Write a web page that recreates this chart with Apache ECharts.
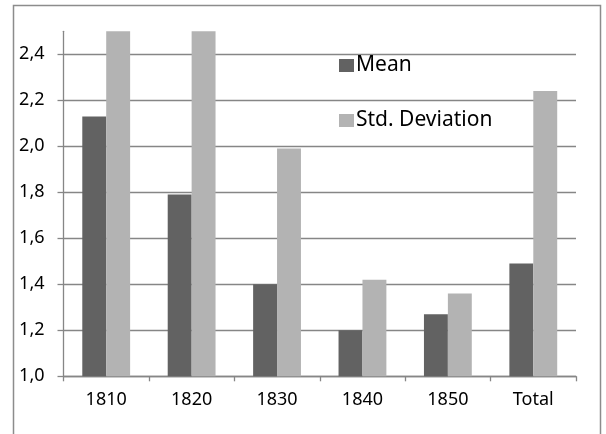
<!DOCTYPE html>
<html>
<head>
<meta charset="utf-8">
<script src="https://cdn.jsdelivr.net/npm/echarts@6/dist/echarts.min.js"></script>
<style>
html,body{margin:0;padding:0;background:#fff;}
#c{width:606px;height:434px;}
</style>
</head>
<body>
<div id="c"></div>
<script>
var categories = ['1810', '1820', '1830', '1840', '1850', 'Total'];
var meanValues = [2.13, 1.79, 1.40, 1.20, 1.27, 1.49];
var stdValues = [2.62, 2.58, 1.99, 1.42, 1.36, 2.24];
var seriesNames = ['Mean', 'Std. Deviation'];

var FONT = '"Noto Sans", sans-serif';
var chart = echarts.init(document.getElementById('c'));
chart.setOption({
  animation: false,
  backgroundColor: '#fff',
  graphic: [{
    type: 'rect',
    z: -1,
    shape: {x: 13.5, y: 5.5, width: 587, height: 450},
    style: {fill: 'none', stroke: '#8c8c8c', lineWidth: 1.5}
  }],
  grid: {left: 63.5, right: 30, top: 31.3, bottom: 57.7},
  legend: {
    orient: 'vertical',
    left: 334,
    top: 50,
    itemWidth: 15,
    itemHeight: 13,
    itemGap: 34,
    icon: 'rect',
    textStyle: {fontFamily: FONT, fontSize: 21, color: '#000', padding: [0, 0, 0, -3]},
    data: seriesNames
  },
  xAxis: {
    type: 'category',
    data: categories,
    axisLine: {lineStyle: {color: '#868686', width: 1.3}},
    axisTick: {show: true, length: 5, lineStyle: {color: '#868686', width: 1.3}},
    axisLabel: {fontFamily: FONT, fontSize: 18, color: '#000', margin: 15}
  },
  yAxis: {
    type: 'value',
    min: 1.0,
    max: 2.5,
    interval: 0.2,
    axisLine: {show: true, lineStyle: {color: '#868686', width: 1.3}},
    axisTick: {show: true, length: 6, lineStyle: {color: '#868686', width: 1.3}},
    axisLabel: {
      fontFamily: FONT, fontSize: 18, color: '#000', margin: 19,
      showMaxLabel: false,
      formatter: function (v) { return Math.abs(v - 2.5) < 1e-6 ? '' : v.toFixed(1).replace('.', ','); }
    },
    splitLine: {show: true, showMaxLine: false, lineStyle: {color: '#868686', width: 1.3}}
  },
  series: [
    {
      name: seriesNames[0],
      type: 'bar',
      data: meanValues,
      barGap: '0%',
      barCategoryGap: '44%',
      itemStyle: {color: '#626262'}
    },
    {
      name: seriesNames[1],
      type: 'bar',
      data: stdValues,
      itemStyle: {color: '#b3b3b3'}
    }
  ]
});
</script>
</body>
</html>
